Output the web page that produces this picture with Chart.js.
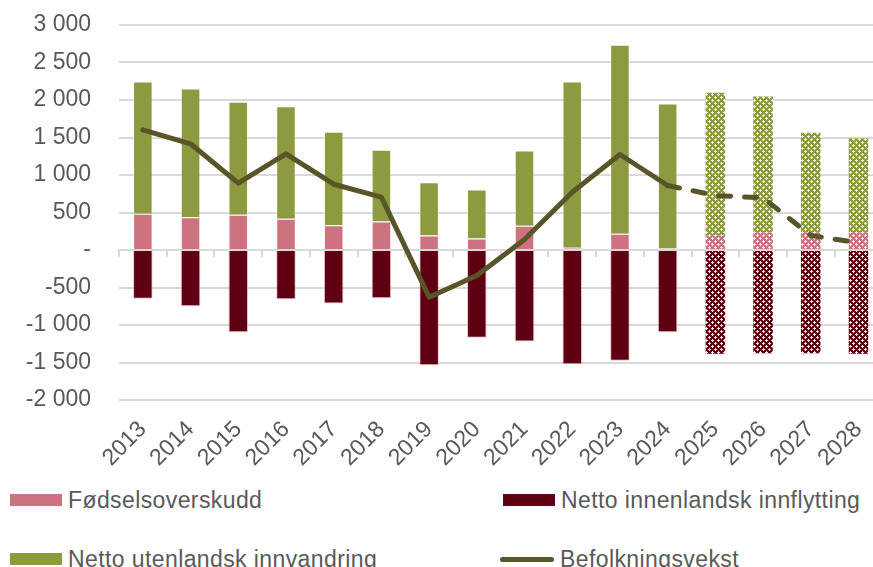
<!DOCTYPE html>
<html>
<head>
<meta charset="utf-8">
<script src="https://cdn.jsdelivr.net/npm/chart.js@4.4.1/dist/chart.umd.min.js"></script>
<style>
  html, body { margin: 0; padding: 0; background: #fff; overflow: hidden; }
  #wrap { position: relative; width: 886px; height: 567px; font-family: "Liberation Sans", Arial, sans-serif; }
  #box { position: absolute; left: 0; top: 0; width: 886px; height: 469px; }
  .item { position: absolute; height: 30px; display: flex; align-items: center; font-size: 23px; letter-spacing: 0.4px; color: #595959; white-space: nowrap; }
  .swatch { width: 52px; height: 12px; margin-right: 6px; }
  .lineswatch { width: 54px; height: 5px; border-radius: 3px; margin-right: 6px; }
</style>
</head>
<body>
<div id="wrap">
  <div id="box"><canvas id="chart"></canvas></div>
  <div id="legend"></div>
</div>
<script>
const years = ["2013", "2014", "2015", "2016", "2017", "2018", "2019", "2020",
  "2021", "2022", "2023", "2024", "2025", "2026", "2027", "2028"];
const fodselsoverskudd = [483, 437, 469, 416, 331, 380, 193, 153, 323, 29, 216, 20, 189, 237, 237, 237];
const innenlandsk = [-651, -749, -1096, -656, -713, -642, -1536, -1171, -1220, -1522, -1478, -1096, -1384, -1376, -1376, -1384];
const utenlandsk = [1764, 1716, 1507, 1501, 1245, 956, 711, 654, 1004, 2218, 2520, 1933, 1907, 1810, 1325, 1250];
const befolkningsvekst = [1602, 1416, 891, 1282, 877, 704, -629, -340, 140, 770, 1273, 860, 727, 696, 193, 96];
const firstForecast = 12; // 2025 and later are projections

const pink = "#cd7380";
const darkRed = "#5e0011";
const olive = "#8e9a40";
const lineColor = "#5a5429";
const textColor = "#595959";
const gridColor = "#d9d9d9";

// small diamond/cross pattern used for the projected years
function makePattern(color) {
  const c = document.createElement("canvas");
  c.width = 6; c.height = 6;
  const g = c.getContext("2d");
  g.fillStyle = color;
  g.fillRect(0, 0, 6, 6);
  g.fillStyle = "rgba(255,255,255,0.85)";
  g.fillRect(1, 0, 1, 3);
  g.fillRect(0, 1, 3, 1);
  g.fillRect(4, 3, 1, 3);
  g.fillRect(3, 4, 3, 1);
  return g.createPattern(c, "repeat");
}

function fills(color) {
  const pat = makePattern(color);
  return years.map((y, i) => (i >= firstForecast ? pat : color));
}

// thin light edge on the solid bars only
const edgeWidths = years.map((y, i) => (i >= firstForecast ? 0 : 1));

function fmt(v) {
  if (v === 0) return "-";
  const s = String(Math.abs(v)).replace(/\B(?=(\d{3})+(?!\d))/g, " ");
  return (v < 0 ? "-" : "") + s;
}

const font = { family: "'Liberation Sans', Arial, sans-serif", size: 23 };

const chart = new Chart(document.getElementById("chart"), {
  type: "bar",
  data: {
    labels: years,
    datasets: [
      {
        label: "Befolkningsvekst",
        type: "line",
        data: befolkningsvekst,
        borderColor: lineColor,
        backgroundColor: lineColor,
        borderWidth: 5,
        borderCapStyle: "round",
        borderJoinStyle: "round",
        pointRadius: 0,
        fill: false,
        tension: 0,
        order: 0,
        segment: {
          borderDash: (ctx) => (ctx.p0DataIndex >= firstForecast - 1 ? [12, 14] : undefined),
        },
      },
      {
        label: "Fødselsoverskudd",
        data: fodselsoverskudd,
        backgroundColor: fills(pink),
        borderColor: "rgba(255,255,255,0.45)",
        borderWidth: edgeWidths,
        order: 1,
      },
      {
        label: "Netto innenlandsk innflytting",
        data: innenlandsk,
        backgroundColor: fills(darkRed),
        borderColor: "rgba(230,150,160,0.6)",
        borderWidth: edgeWidths,
        order: 1,
      },
      {
        label: "Netto utenlandsk innvandring",
        data: utenlandsk,
        backgroundColor: fills(olive),
        borderColor: "rgba(255,255,255,0.45)",
        borderWidth: edgeWidths,
        order: 1,
      },
    ],
  },
  options: {
    responsive: true,
    maintainAspectRatio: false,
    animation: false,
    layout: { padding: { top: 25, right: 0, bottom: 0, left: 0 } },
    datasets: {
      bar: { barPercentage: 0.41, categoryPercentage: 1 },
    },
    scales: {
      x: {
        stacked: true,
        grid: { display: false },
        border: { display: false },
        ticks: { color: textColor, font: font, minRotation: 45, maxRotation: 45, padding: 8 },
        afterFit: (s) => { s.height = 69; },
      },
      x2: {
        type: "category",
        position: { y: 0 },
        offset: true,
        grid: { offset: true, drawOnChartArea: false, drawTicks: true, tickLength: 6, color: gridColor, lineWidth: 2 },
        border: { display: true, color: gridColor, width: 2 },
        ticks: { display: false },
      },
      y: {
        stacked: true,
        min: -2000,
        max: 3000,
        grid: { color: gridColor, lineWidth: 2, drawTicks: false },
        border: { display: false },
        ticks: { stepSize: 500, color: textColor, font: font, padding: 28, callback: (v) => fmt(v) },
        afterFit: (s) => {
          s.width = 119;
          // the big label padding should only push labels sideways
          s.paddingTop = 12;
          s.paddingBottom = 12;
        },
      },
    },
    plugins: {
      legend: { display: false },
      tooltip: { enabled: false },
    },
  },
});

// legend in two columns, as in the original figure
const legendSpots = [
  { ds: 1, left: 10, top: 485 },
  { ds: 2, left: 503, top: 485 },
  { ds: 3, left: 10, top: 544 },
  { ds: 0, left: 500, top: 544 },
];
const legend = document.getElementById("legend");
legendSpots.forEach((p) => {
  const ds = chart.data.datasets[p.ds];
  const el = document.createElement("div");
  el.className = "item";
  el.style.left = p.left + "px";
  el.style.top = p.top + "px";
  const sw = document.createElement("span");
  sw.className = ds.type === "line" ? "lineswatch" : "swatch";
  sw.style.background = ds.type === "line" ? lineColor : [pink, darkRed, olive][p.ds - 1];
  el.appendChild(sw);
  el.appendChild(document.createTextNode(ds.label));
  legend.appendChild(el);
});
</script>
</body>
</html>
